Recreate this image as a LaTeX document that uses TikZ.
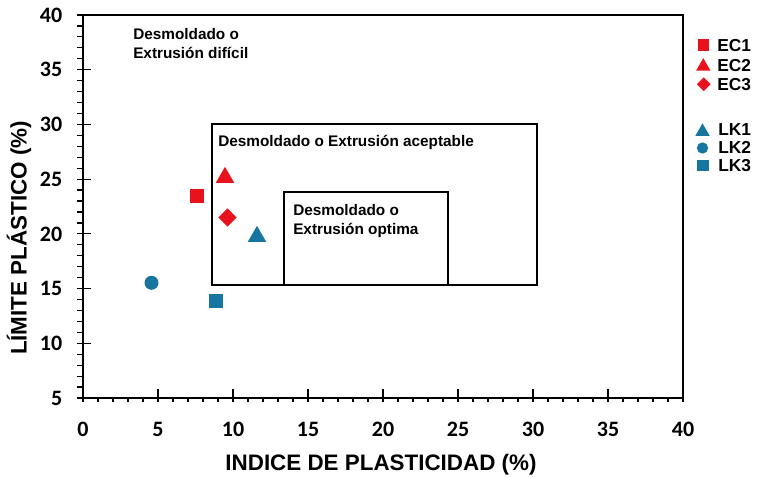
\documentclass[tikz,border=0pt]{standalone}
\usepackage{fontspec}
\setmainfont{Liberation Sans}
\newfontfamily\tickfont{Carlito}
\usepackage{tikz}
\usetikzlibrary{shapes.geometric}
\usepackage{xcolor}

\definecolor{ecred}{RGB}{232,18,28}
\definecolor{lkblue}{RGB}{22,118,160}

\tikzset{
  axisline/.style={line width=1.5pt, black},
  zonebox/.style={line width=1.7pt, black},
  ticklab/.style={inner sep=0.75pt, font=\tickfont\bfseries\fontsize{16.5}{19}\selectfont},
  axtitle/.style={inner sep=0.75pt, font=\bfseries\fontsize{16.8}{20}\selectfont},
  zonelab/.style={inner sep=0.75pt, anchor=west, align=left, font=\bfseries\fontsize{11.5}{14}\selectfont},
  leglab/.style={inner sep=0.75pt, anchor=west, font=\bfseries\fontsize{13}{15}\selectfont},
  sqmk/.style={rectangle, inner sep=0pt, minimum size=#1},
  trimk/.style={regular polygon, regular polygon sides=3, inner sep=0pt, minimum size=#1},
  dimk/.style={diamond, inner sep=0pt, minimum width=#1, minimum height=#1},
  cimk/.style={circle, inner sep=0pt, minimum size=#1},
}

\begin{document}
\begin{tikzpicture}[x=0.75pt,y=0.75pt,yscale=-1,xscale=1]
\useasboundingbox (0,0) rectangle (764,478);

%Shape: Rectangle [axes frame]
\draw[axisline] (83,15) rectangle (683,398);

%Ticks: left axis
\foreach \i in {0,...,35}
  \draw[line width=0.9pt] (77,{15+\i*10.943}) -- (83,{15+\i*10.943});
\foreach \v [evaluate=\v as \yy using 15+(40-\v)*10.943] in {5,10,...,40} {
  \draw[line width=0.9pt] (77,\yy) -- (91,\yy);
  \node[ticklab, anchor=east] (yl\v) at (63.5,\yy) {\v};
}
%Ticks: bottom axis
\foreach \i in {0,...,40}
  \draw[line width=0.9pt] ({83+15*\i},398) -- ({83+15*\i},402);
\foreach \v [evaluate=\v as \xx using 83+15*\v] in {0,5,...,40} {
  \draw[line width=0.9pt] (\xx,389) -- (\xx,402);
  \node[ticklab] (xl\v) at (\xx,429) {\v};
}

% Axis titles
\node[axtitle] (xtitle) at (381,465) {INDICE DE PLASTICIDAD (\%)};
\node[axtitle, rotate=90] (ytitle) at (19,238) {LÍMITE PLÁSTICO (\%)};

%Shape: Rectangle [acceptable zone]
\draw[zonebox] (211.7,124) rectangle (536.7,285);
%Shape: Rectangle [optimal zone]
\draw[zonebox] (284.3,285) -- (284.3,191.7) -- (447.7,191.7) -- (447.7,285);

% Text Node
\node[zonelab] (dificil) at (132,43.5) {\fontsize{11.5}{14.25}\selectfont Desmoldado o\\Extrusión difícil};
% Text Node
\node[zonelab] (aceptable) at (217,142.7) {Desmoldado o Extrusión aceptable};
% Text Node
\node[zonelab] (optima) at (292,221) {\fontsize{11.5}{13.7}\selectfont Desmoldado o\\Extrusión optima};

% Data points
\node[sqmk=10.5pt, fill=ecred] (ec1) at (197,196.3) {};
\node[trimk=16pt, fill=ecred] (ec2) at (225,177.5) {};
\node[dimk=13.8pt, fill=ecred] (ec3) at (227.5,217.5) {};
\node[trimk=16pt, fill=lkblue] (lk1) at (257,236.5) {};
\node[cimk=10.5pt, fill=lkblue] (lk2) at (151.5,282.8) {};
\node[sqmk=10.5pt, fill=lkblue] (lk3) at (215.5,300.7) {};

% Legend
\node[sqmk=8.5pt, fill=ecred] (mec1) at (703.8,45) {};
\node[trimk=12.5pt, fill=ecred] (mec2) at (703.3,66.5) {};
\node[dimk=10.5pt, fill=ecred] (mec3) at (703.7,84.2) {};
\node[trimk=12.5pt, fill=lkblue] (mlk1) at (702.5,131.7) {};
\node[cimk=8.5pt, fill=lkblue] (mlk2) at (702.5,148) {};
\node[sqmk=8.5pt, fill=lkblue] (mlk3) at (703,165.8) {};
\node[leglab] (lec1) at (716,46) {EC1};
\node[leglab] (lec2) at (716,65.7) {EC2};
\node[leglab] (lec3) at (716,84.3) {EC3};
\node[leglab] (llk1) at (717,130) {LK1};
\node[leglab] (llk2) at (717,147.7) {LK2};
\node[leglab] (llk3) at (717,165.7) {LK3};

\end{tikzpicture}
\end{document}
